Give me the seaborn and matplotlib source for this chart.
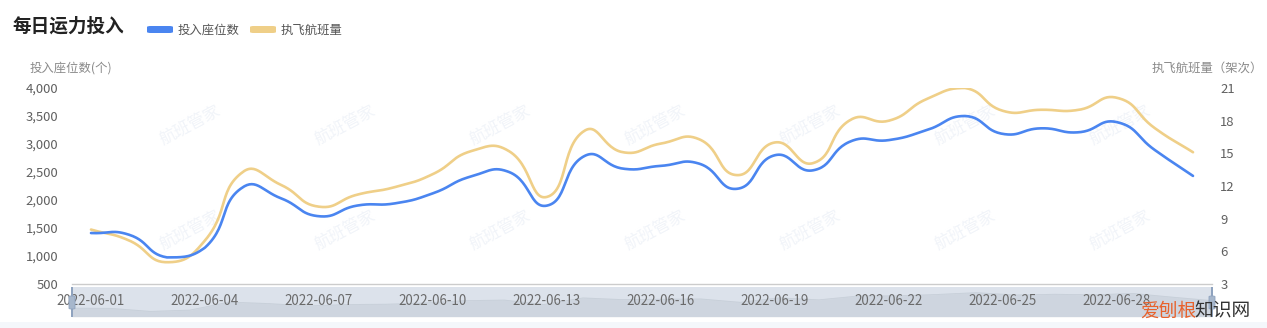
import numpy as np
import matplotlib
matplotlib.use("Agg")
import matplotlib.pyplot as plt
from matplotlib.patches import FancyBboxPatch, Rectangle
import seaborn as sns

# ---------------- data ----------------
dates = [f"2022-06-{d:02d}" for d in range(1, 31)]
seats = [1410, 1380, 975, 1150, 2230, 2030, 1710, 1900, 1940, 2120,
         2420, 2500, 1900, 2790, 2560, 2610, 2650, 2200, 2800, 2530,
         3050, 3070, 3250, 3500, 3180, 3280, 3210, 3390, 2890, 2430]
flights = [8.0, 7.0, 5.0, 7.0, 13.3, 12.1, 10.1, 11.2, 11.9, 13.1,
           15.2, 15.2, 11.0, 17.1, 15.1, 15.9, 16.3, 13.0, 16.0, 14.1,
           18.1, 18.0, 20.0, 21.0, 18.9, 19.0, 19.0, 20.1, 17.3, 15.1]
left_ticks = [500, 1000, 1500, 2000, 2500, 3000, 3500, 4000]
right_ticks = [3, 6, 9, 12, 15, 18, 21]
series_names = ["投入座位数", "执飞航班量"]

BLUE = "#4a85f0"
YELLOW = "#efcf88"

sns.set_theme(style="white")
plt.rcParams["font.family"] = ["Noto Sans CJK SC", "DejaVu Sans"]


def smooth_path(vals, sx, sy, smooth=0.5, n=30):
    """ECharts(4)-style smoothed bezier path through the data points."""
    P = np.column_stack([np.arange(len(vals)) * sx, np.asarray(vals, float) * sy])
    N = len(P)
    lo, hi = P.min(axis=0), P.max(axis=0)
    cps = []
    for i in range(N):
        prev = P[i - 1] if i > 0 else P[i]
        nxt = P[i + 1] if i < N - 1 else P[i]
        v = (nxt - prev) * smooth
        d0 = np.hypot(*(P[i] - prev))
        d1 = np.hypot(*(P[i] - nxt))
        s = d0 + d1
        if s:
            d0, d1 = d0 / s, d1 / s
        c_in = np.clip(P[i] - v * d0, lo, hi)
        c_out = np.clip(P[i] + v * d1, lo, hi)
        cps.append((c_in, c_out))
    t = np.linspace(0, 1, n)[1:, None]
    out = [P[:1]]
    for i in range(N - 1):
        p0, p3 = P[i], P[i + 1]
        c1, c2 = cps[i][1], cps[i + 1][0]
        seg = ((1 - t) ** 3 * p0 + 3 * (1 - t) ** 2 * t * c1
               + 3 * (1 - t) * t ** 2 * c2 + t ** 3 * p3)
        out.append(seg)
    out = np.vstack(out)
    return out[:, 0] / sx, out[:, 1] / sy


W, H = 1267, 328
fig = plt.figure(figsize=(W / 100, H / 100), dpi=100)
fig.patch.set_facecolor("white")

L, R, T, B = 72, 1212, 88, 284
rect = [L / W, 1 - B / H, (R - L) / W, (B - T) / H]

# faint site watermarks
for wy in (125, 230):
    for wx in range(190, 1200, 155):
        fig.text(wx / W, 1 - wy / H, "航班管家", fontsize=12, color="#f1f4f9",
                 rotation=28, ha="center", va="center", zorder=0.5)

# ---------------- slider (data zoom) ----------------
sl_top, sl_bot = 287, 317
axs = fig.add_axes([L / W, 1 - sl_bot / H, (R - L) / W, (sl_bot - sl_top) / H])
axs.set_zorder(1)
axs.set_facecolor("#dce2eb")
lo, hi = min(seats), max(seats)
pad = (hi - lo) * 0.3
axs.set_ylim(lo - pad, hi + pad)
axs.set_xlim(0, len(seats) - 1)
xi = np.arange(len(seats))
axs.fill_between(xi, lo - pad, seats, color="#2f4554", alpha=0.08, lw=0)
sns.lineplot(x=xi, y=seats, ax=axs, color="#2f4554", alpha=0.12, linewidth=0.6)
axs.set_xticks([])
axs.set_yticks([])
axs.set_xlabel("")
axs.set_ylabel("")
for s in axs.spines.values():
    s.set_visible(False)

# handles
for hx in (L, R):
    fig.add_artist(Rectangle(((hx - 0.7) / W, 1 - sl_bot / H), 1.4 / W, (sl_bot - sl_top) / H,
                             transform=fig.transFigure, color="#8fa3bf", lw=0, zorder=5))
    fig.add_artist(FancyBboxPatch(((hx - 3) / W, 1 - 309 / H), 6 / W, 13 / H,
                                  boxstyle="round,pad=0,rounding_size=0.002",
                                  transform=fig.transFigure, facecolor="#a7b7cc",
                                  edgecolor="#8fa3bf", lw=0.6, zorder=6))
# light band under the slider
fig.add_artist(Rectangle((0, 0), 1, 6 / H, transform=fig.transFigure,
                         color="#f4f7fb", lw=0, zorder=0))

# ---------------- main axes ----------------
ax = fig.add_axes(rect)
sx_px = (R - L) / len(seats)
x1, y1 = smooth_path(seats, sx_px, (B - T) / (4000 - 500))
sns.lineplot(x=x1, y=y1, ax=ax, color=BLUE, linewidth=1.9, sort=False, estimator=None)
ax.set_xlim(-0.5, len(seats) - 0.5)
ax.set_ylim(500, 4000)
ax.set_yticks(left_ticks)
ax.set_yticklabels([f"{v:,}" for v in left_ticks])
ax.set_xticks(list(range(0, len(dates), 3)))
ax.set_xticklabels([dates[i] for i in range(0, len(dates), 3)])
ax.tick_params(axis="y", length=0, pad=10, labelsize=9.4, labelcolor="#606060")
ax.tick_params(axis="x", length=0, pad=7, labelsize=9.6, labelcolor="#6a6a6a")
ax.set_xlabel("")
ax.set_ylabel("")
for k, s in ax.spines.items():
    s.set_visible(k == "bottom")
ax.spines["bottom"].set_color("#cccccc")
ax.spines["bottom"].set_linewidth(1.0)
ax.grid(False)

ax2 = ax.twinx()
x2, y2 = smooth_path(flights, sx_px, (B - T) / (21 - 3))
sns.lineplot(x=x2, y=y2, ax=ax2, color=YELLOW, linewidth=1.9, sort=False, estimator=None)
ax2.set_ylim(3, 21)
ax2.set_yticks(right_ticks)
ax2.set_yticklabels([str(v) for v in right_ticks])
ax2.tick_params(axis="y", length=0, pad=6, labelsize=9.4, labelcolor="#606060")
ax2.set_ylabel("")
for s in ax2.spines.values():
    s.set_visible(False)
ax2.grid(False)
ax.set_zorder(3)
ax2.set_zorder(2)
ax.patch.set_alpha(0)
ax2.patch.set_alpha(0)

# ---------------- texts ----------------
fig.text(12 / W, 1 - 26 / H, "每日运力投入", fontsize=13.4, fontweight="bold",
         color="#222222", va="center", ha="left")
leg = [(147, BLUE, series_names[0]), (250, YELLOW, series_names[1])]
for lx, c, name in leg:
    fig.add_artist(FancyBboxPatch((lx / W, 1 - 33 / H), 26 / W, 7 / H,
                                  boxstyle="round,pad=0,rounding_size=0.003",
                                  transform=fig.transFigure, facecolor=c,
                                  edgecolor="none"))
    fig.text((lx + 31) / W, 1 - 30 / H, name, fontsize=8.9, color="#555555",
             va="center", ha="left")
fig.text(30 / W, 1 - 68 / H, "投入座位数(个)", fontsize=8.9, color="#8a8a8a",
         va="center", ha="left")
fig.text(1263 / W, 1 - 68 / H, "执飞航班量（架次）", fontsize=8.9, color="#8a8a8a",
         va="center", ha="right")

# site watermark
fig.text(1140 / W, 1 - 311 / H, "爱刨根", fontsize=13.5, color="#e8622c",
         va="center", ha="left", zorder=10)
fig.text(1194 / W, 1 - 311 / H, "知识网", fontsize=13.5, color="#333333",
         va="center", ha="left", zorder=10)

fig.savefig("out.png", dpi=100, facecolor="white")
